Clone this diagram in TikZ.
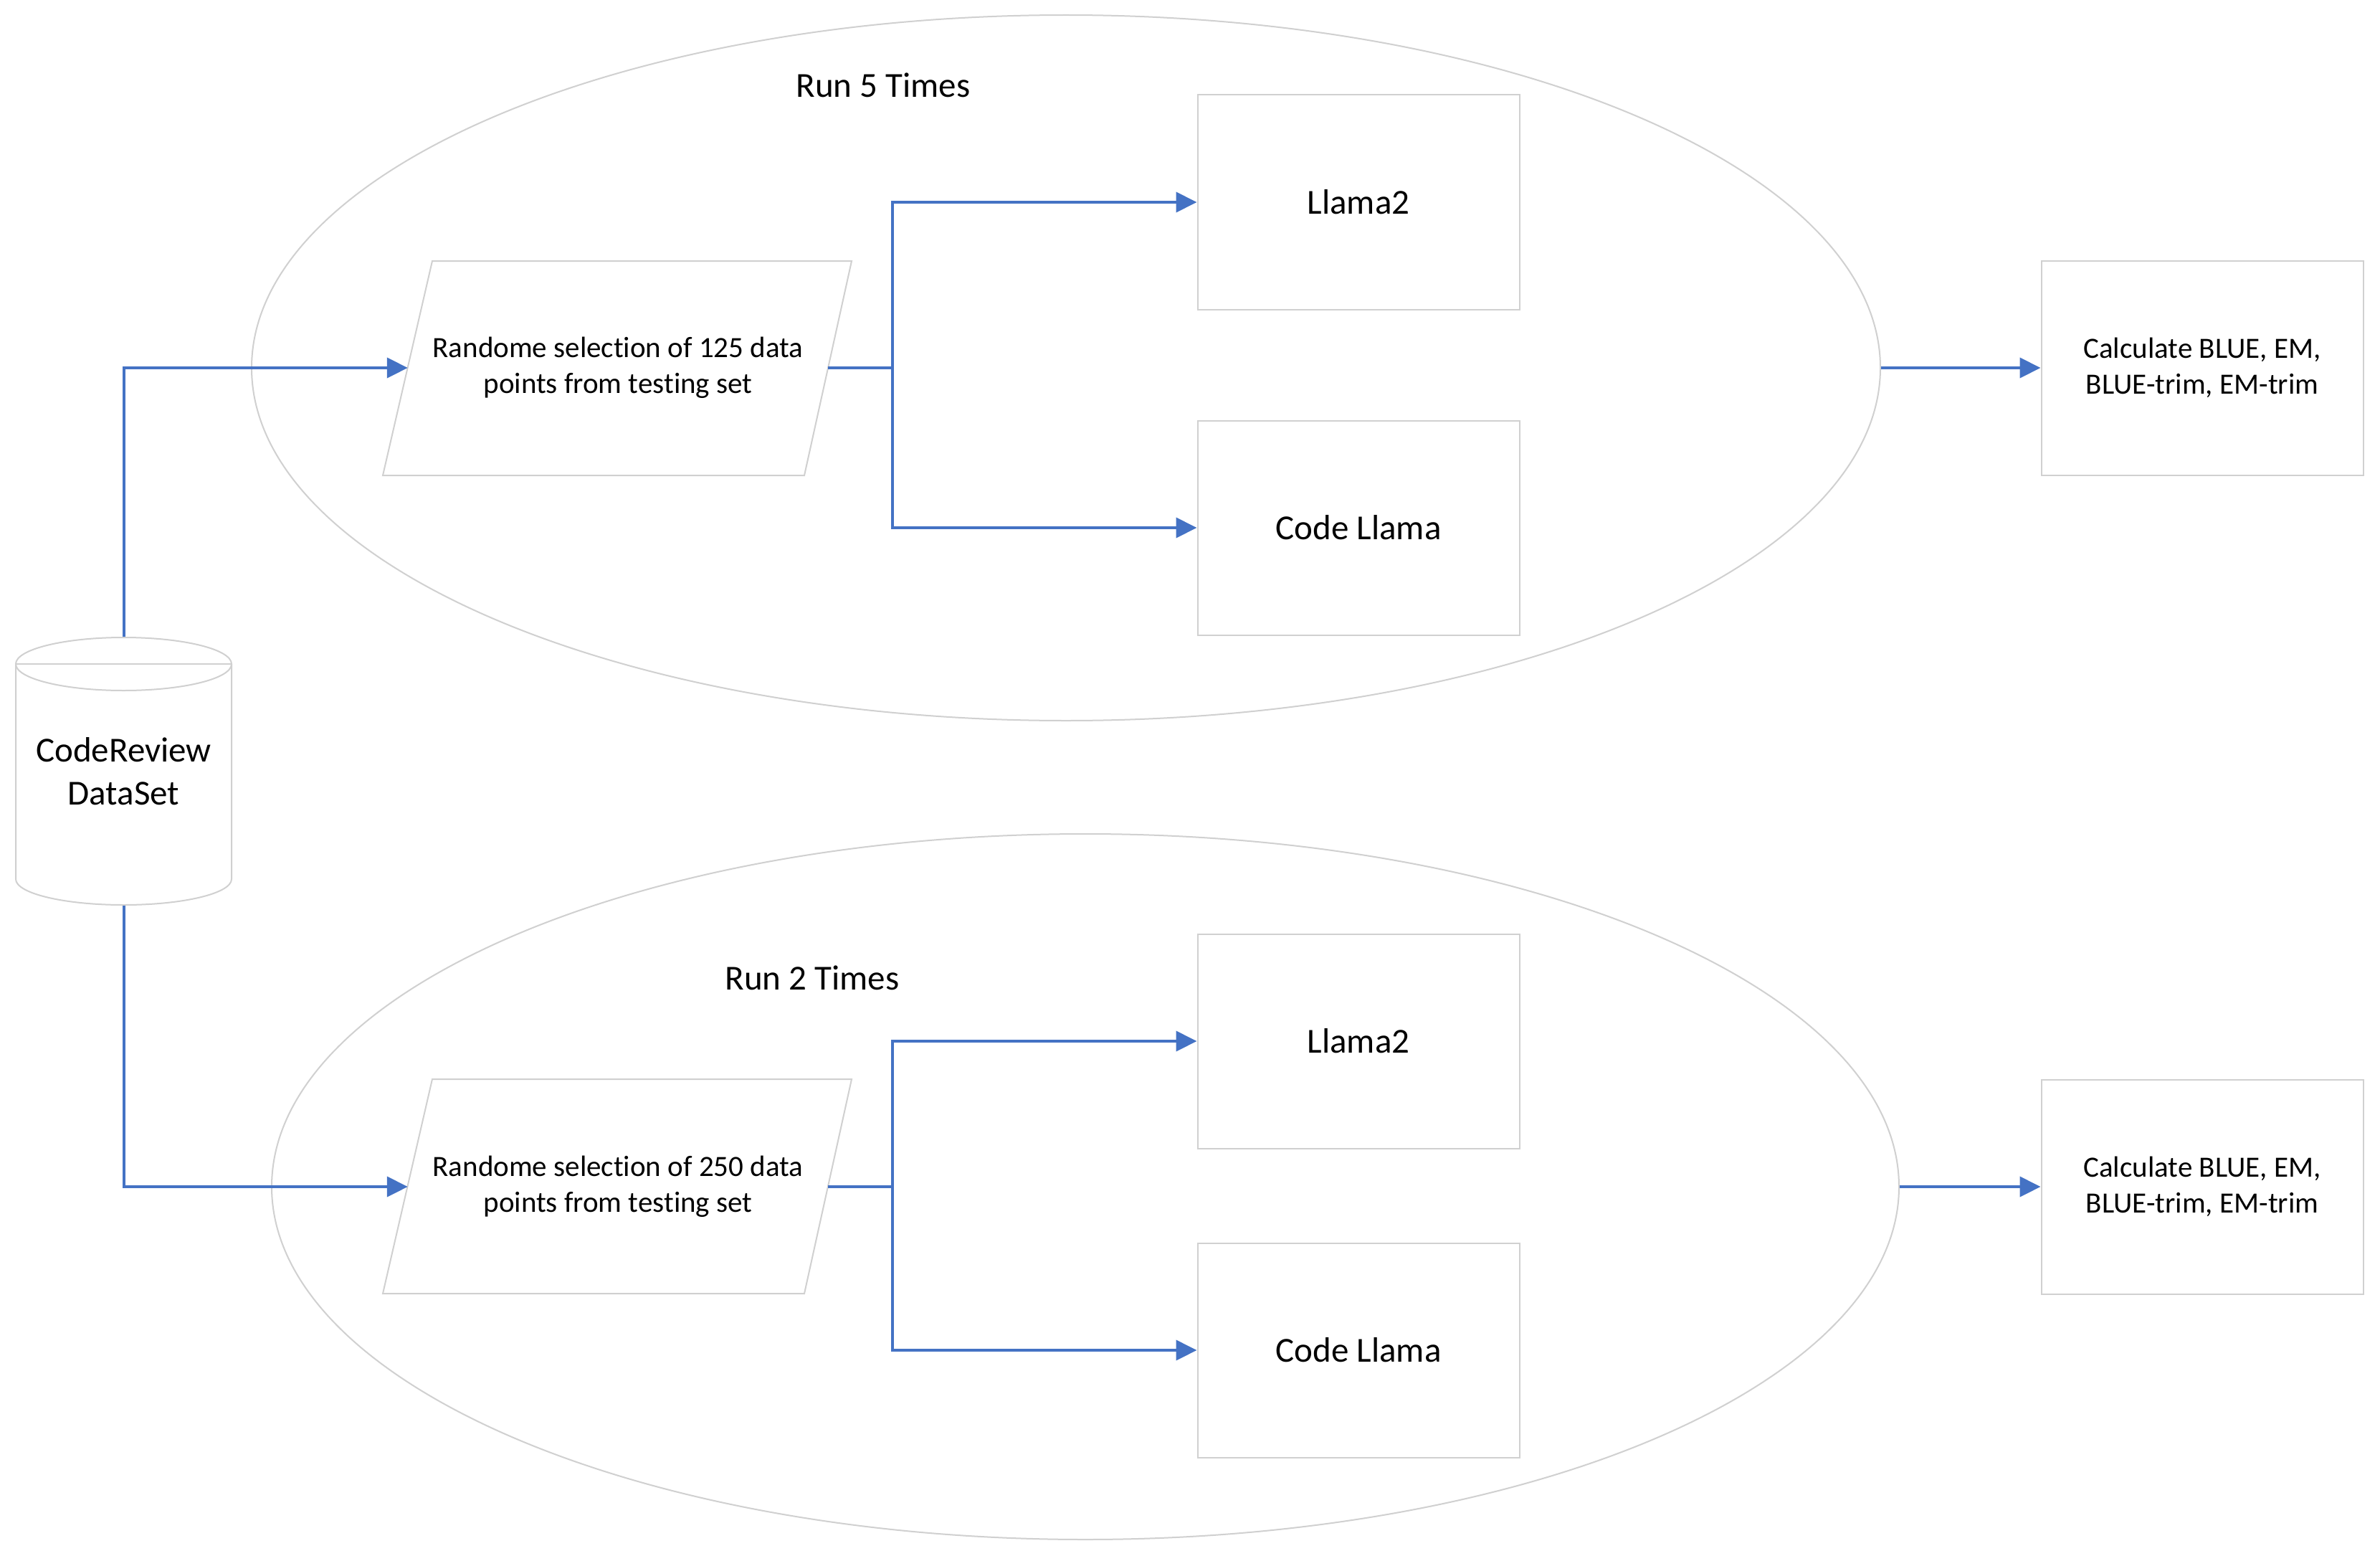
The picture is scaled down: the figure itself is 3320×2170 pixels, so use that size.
\documentclass[tikz,border=0pt]{standalone}
\usepackage{fontspec}
\setmainfont{Carlito}[Ligatures=NoCommon]
\usetikzlibrary{arrows.meta,shapes.geometric}
\definecolor{lineblue}{HTML}{4472C4}
\definecolor{edgegray}{HTML}{D0D0D0}
\begin{document}
\begin{tikzpicture}[x=1pt,y=-1pt,
  grayline/.style={draw=edgegray,line width=2pt},
  box/.style={grayline,rectangle,minimum width=449pt,minimum height=299pt,inner sep=0pt,align=center},
  bigtext/.style={font=\fontsize{49}{60}\selectfont},
  smalltext/.style={font=\fontsize{41}{50}\selectfont},
  conn/.style={draw=lineblue,line width=4pt,-{Triangle[length=29pt,width=28pt]}},
  plainconn/.style={draw=lineblue,line width=4pt},
  ring/.style={grayline,ellipse,inner sep=0pt}]
\useasboundingbox[fill=white] (0,0) rectangle (3320,2170);

% loop ellipses
\node[ring,minimum width=2272pt,minimum height=984pt] (e1) at (1487,513) {};
\node[ring,minimum width=2270pt,minimum height=984pt] (e2) at (1514,1655) {};
\node[bigtext] (r1) at (1232,119) {Run 5 Times};
\node[bigtext] (r2) at (1133,1364) {Run 2 Times};

% database cylinder
\draw[grayline] (22,926) -- (22,1226) arc[start angle=180,end angle=360,x radius=150.5pt,y radius=36pt] -- (323,926);
\draw[grayline] (172.5,926) ellipse[x radius=150.5pt,y radius=37pt];
\draw[grayline] (22,926) -- (323,926);
\node[bigtext,align=center,minimum width=301pt,minimum height=375pt,inner sep=0pt] (db) at (172.5,1075.5) {CodeReview\\DataSet};

% parallelograms
\draw[grayline] (603,364) -- (1188,364) -- (1122,663) -- (534,663) -- cycle;
\node[smalltext,align=center,minimum width=586pt,minimum height=299pt,inner sep=0pt] (p1) at (862,513) {Randome selection of 125 data\\points from testing set};
\draw[grayline] (603,1505) -- (1188,1505) -- (1122,1804) -- (534,1804) -- cycle;
\node[smalltext,align=center,minimum width=586pt,minimum height=299pt,inner sep=0pt] (p2) at (862,1655) {Randome selection of 250 data\\points from testing set};

% model boxes
\node[box,bigtext] (l1) at (1895,282) {Llama2};
\node[box,bigtext] (c1) at (1895,736) {Code Llama};
\node[box,bigtext] (l2) at (1895,1452) {Llama2};
\node[box,bigtext] (c2) at (1895,1883) {Code Llama};

% result boxes
\node[box,smalltext] (k1) at (3072,513) {Calculate BLUE, EM,\\BLUE-trim, EM-trim};
\node[box,smalltext] (k2) at (3072,1655) {Calculate BLUE, EM,\\BLUE-trim, EM-trim};

% connectors
\draw[conn] (db.north) |- (p1.west);
\draw[conn] (db.south) |- (p2.west);
\coordinate (b1) at (1245,513);
\coordinate (b2) at (1245,1655);
\draw[plainconn] (p1.east) -- (b1);
\draw[conn] (b1) |- (l1.west);
\draw[conn] (b1) |- (c1.west);
\draw[plainconn] (p2.east) -- (b2);
\draw[conn] (b2) |- (l2.west);
\draw[conn] (b2) |- (c2.west);
\draw[conn] (e1.east) -- (k1.west);
\draw[conn] (e2.east) -- (k2.west);
\end{tikzpicture}
\end{document}
